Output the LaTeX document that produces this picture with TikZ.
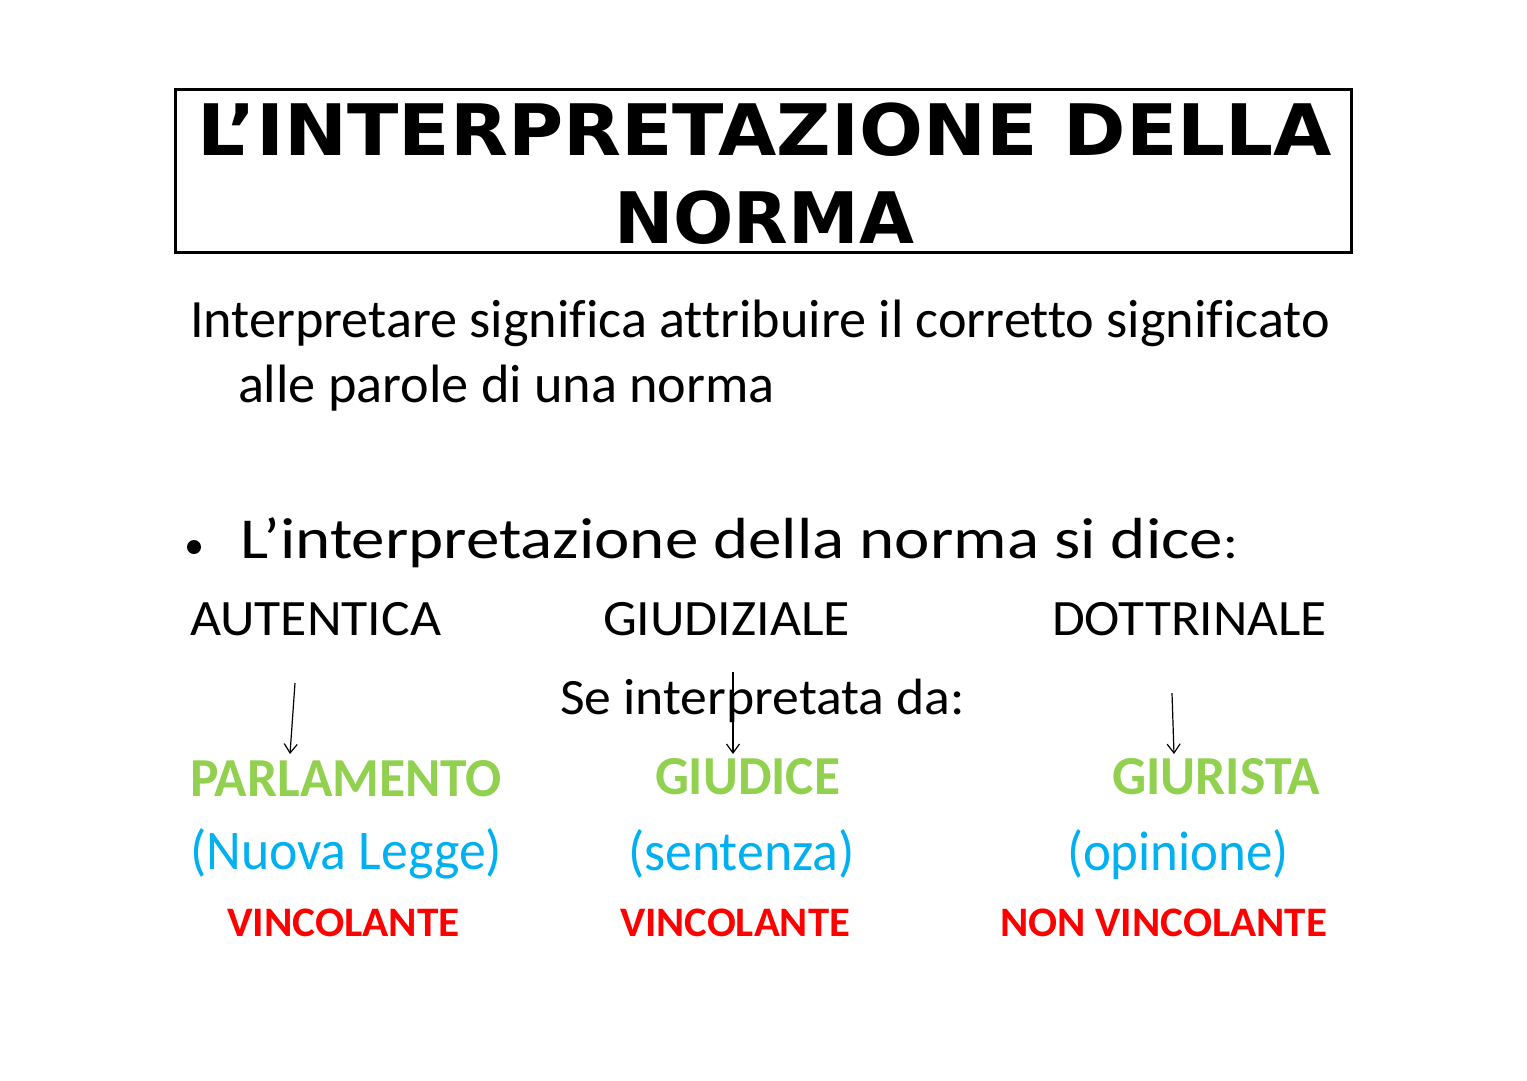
\documentclass[tikz,border=0pt]{standalone}
\usepackage{fontspec}
\setmainfont[Ligatures={NoCommon,NoContextual}]{Carlito}
\newfontfamily\titlefont{DejaVu Sans}
\usetikzlibrary{arrows.meta}
\definecolor{lgreen}{HTML}{92D050}
\definecolor{lblue}{HTML}{00B0F0}
\definecolor{lred}{HTML}{FF0000}
\newcommand{\fw}[2]{\resizebox{#1}{\height}{#2}}
\newcommand{\fsz}[1]{\fontsize{#1pt}{#1pt}\selectfont}
\begin{document}
\begin{tikzpicture}[x=1pt,y=-1pt,
  txt/.style={anchor=base west, inner sep=0pt, outer sep=0pt},
  conn/.style={draw=black, line width=1.2pt, -{Straight Barb[length=9pt,width=13pt,line width=1.2pt]}},
  green/.style={text=lgreen},
  blue/.style={text=lblue},
  red/.style={text=lred}]
\useasboundingbox (0,0) rectangle (1527,1080);
% title box
\node[draw, line width=3pt, inner sep=0pt, minimum width=1176pt, minimum height=163pt] (titlebox) at (763,170.5) {};
\node[txt] (t1) at (197,155) {\fw{1135pt}{\fsz{71}\titlefont\bfseries L’INTERPRETAZIONE DELLA}};
\node[txt] (t2) at (614,243) {\fw{300pt}{\fsz{71}\titlefont\bfseries NORMA}};
% definition
\node[txt] (d1) at (190,337) {\fw{1140pt}{\fsz{54}Interpretare significa attribuire il corretto significato}};
\node[txt] (d2) at (238,402) {\fw{537pt}{\fsz{54}alle parole di una norma}};
% bullet line
\node[circle, fill=black, inner sep=0pt, minimum size=14pt] (bul) at (194,547) {};
\node[txt] (b1) at (240,558) {\fw{998pt}{\fsz{58}L’interpretazione della norma si dice{\fsz{48}:}}};
% types
\node[txt] (aut) at (190,635) {\fw{251pt}{\fsz{51}AUTENTICA}};
\node[txt] (giu) at (603,635) {\fw{247pt}{\fsz{51}GIUDIZIALE}};
\node[txt] (dot) at (1052,635) {\fw{275pt}{\fsz{51}DOTTRINALE}};
\node[txt] (se) at (560,714) {\fw{405pt}{\fsz{51}Se interpretata da:}};
% subjects
\node[txt, green] (parl) at (190,796) {\fw{312pt}{\fsz{55}\bfseries PARLAMENTO}};
\node[txt, green] (giud) at (655,794) {\fw{185pt}{\fsz{55}\bfseries GIUDICE}};
\node[txt, green] (gist) at (1112,794) {\fw{208pt}{\fsz{55}\bfseries GIURISTA}};
% outputs
\node[txt, blue] (nl) at (190,869) {\fw{312pt}{\fsz{56}(Nuova Legge)}};
\node[txt, blue] (sent) at (628,870) {\fw{227pt}{\fsz{56}(sentenza)}};
\node[txt, blue] (opin) at (1067,870) {\fw{222pt}{\fsz{56}(opinione)}};
% binding
\node[txt, red] (v1) at (227,936) {\fw{233pt}{\fsz{42}\bfseries VINCOLANTE}};
\node[txt, red] (v2) at (620,936) {\fw{230pt}{\fsz{42}\bfseries VINCOLANTE}};
\node[txt, red] (v3) at (1000,936) {\fw{327pt}{\fsz{42}\bfseries NON VINCOLANTE}};
% arrows
\coordinate (a1s) at (295,683);
\coordinate (a1e) at (290,754);
\coordinate (a2s) at (733,672);
\coordinate (a2e) at (733,754);
\coordinate (a3s) at (1172,693);
\coordinate (a3e) at (1174,754);
\draw[conn] (a1s) -- (a1e);
\draw[conn] (a2s) -- (a2e);
\draw[conn] (a3s) -- (a3e);
\end{tikzpicture}
\end{document}
